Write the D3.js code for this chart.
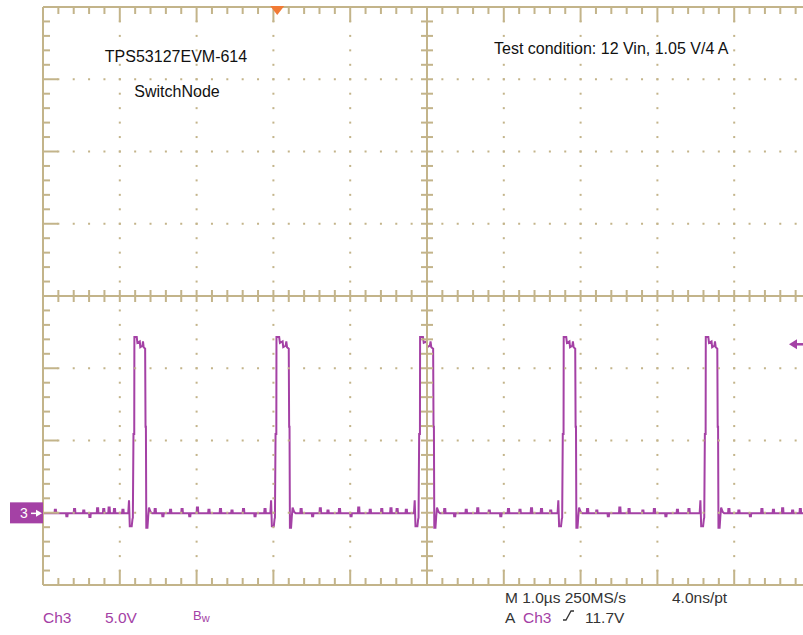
<!DOCTYPE html>
<html>
<head>
<meta charset="utf-8">
<script src="https://cdn.jsdelivr.net/npm/d3@7"></script>
<style>
  html, body { margin: 0; padding: 0; background: #fff; }
  svg { display: block; }
</style>
</head>
<body>
<div id="chart"></div>
<script>
// scope settings
const timePerDiv = 1.0;      // µs / div
const voltsPerDiv = 5.0;     // V / div
const triggerLevel = 11.7;   // V
const triggerTime = -1.95;   // µs, relative to screen centre

// pulses (µs from centre)
const riseTimes = [-3.83, -1.98, -0.11, 1.76, 3.61];
const fallTimes = [-3.66, -1.79, 0.09, 1.94, 3.79];
// plateau shape: [fraction of pulse width, volts]
const topShape = [[0, 12.2], [0.22, 12.2], [0.28, 11.8], [0.5, 11.9], [0.55, 11.5], [0.75, 11.6], [0.8, 11.9], [0.86, 11.5], [1, 11.4]];
// ringing before rise / after fall: [µs offset, volts]
const preRing = [[-0.06, 0], [-0.05, 0.9], [-0.04, -0.9], [-0.015, -0.9], [-0.005, -0.4]];
const postRing = [[0.005, -1.0], [0.02, -1.0], [0.03, -0.2], [0.04, 0.4], [0.06, 0.1], [0.08, 0]];
// small glitches on the baseline: [µs, volts]
const glitches = [
  [-4.85, 0.25], [-4.7, -0.2], [-4.6, 0.3], [-4.48, 0.2], [-4.4, -0.25], [-4.3, 0.35], [-4.22, 0.3], [-4.15, 0.4], [-4.08, 0.3], [-3.97, 0.25],
  [-3.55, 0.3], [-3.45, -0.2], [-3.35, 0.25], [-3.2, 0.3], [-3.1, -0.2], [-3.0, 0.4], [-2.85, 0.25], [-2.7, 0.3], [-2.55, 0.2], [-2.4, 0.3], [-2.25, -0.2], [-2.12, 0.3],
  [-1.65, 0.3], [-1.5, -0.2], [-1.4, 0.35], [-1.3, 0.2], [-1.15, 0.3], [-1.0, -0.2], [-0.9, 0.4], [-0.75, 0.25], [-0.6, 0.3], [-0.48, 0.35], [-0.4, 0.3], [-0.28, 0.25],
  [0.22, 0.3], [0.35, -0.2], [0.5, 0.25], [0.65, 0.35], [0.8, 0.2], [0.95, -0.2], [1.05, 0.3], [1.2, 0.25], [1.35, 0.35], [1.48, 0.3], [1.6, 0.2],
  [2.08, 0.3], [2.2, 0.2], [2.35, -0.2], [2.5, 0.4], [2.62, 0.3], [2.8, 0.2], [2.95, 0.3], [3.1, -0.2], [3.25, 0.25], [3.4, 0.3],
  [3.92, 0.3], [4.05, 0.2], [4.2, -0.2], [4.35, 0.3], [4.5, 0.25], [4.62, 0.35], [4.75, 0.2], [4.85, 0.3]];

const width = 803, height = 635;
const gridColor = "#c3b48a";
const traceColor = "#a441a5";

const svg = d3.select("#chart").append("svg")
    .attr("width", width)
    .attr("height", height)
    .style("font-family", "'Liberation Sans', Arial, sans-serif");

svg.append("rect").attr("width", width).attr("height", height).attr("fill", "#fff");

// division scales
const xDiv = d3.scaleLinear().domain([0, 10]).range([43, 811]);
const yDiv = d3.scaleLinear().domain([0, 8]).range([7, 585]);
// data scales
const x = d3.scaleLinear().domain([-5 * timePerDiv, 5 * timePerDiv]).range([43, 811]);
const y = d3.scaleLinear().domain([-1 * voltsPerDiv, 7 * voltsPerDiv]).range([585.6, 7.6]);

// build trace
const pts = [[-5, 0]];
const events = [];
riseTimes.forEach((r, i) => {
  const f = fallTimes[i], w = f - r;
  const seg = [];
  preRing.forEach(p => seg.push([r + p[0], p[1]]));
  seg.push([r, -0.3]);
  seg.push([r + 0.008, 5.5]);
  seg.push([r + 0.018, 5.5]);
  topShape.forEach(p => seg.push([r + 0.02 + p[0] * (w - 0.03), p[1]]));
  seg.push([f - 0.005, 6.0]);
  seg.push([f, 6.0]);
  postRing.forEach(p => seg.push([f + p[0], p[1]]));
  events.push({t: r - 0.06, seg});
});
glitches.forEach(g => events.push({t: g[0], seg: [[g[0], 0], [g[0] + 0.004, g[1]], [g[0] + 0.018, g[1]], [g[0] + 0.022, 0]]}));
events.sort((a, b) => a.t - b.t).forEach(e => e.seg.forEach(p => pts.push(p)));
pts.push([x.invert(803), 0]);

svg.append("path")
    .datum(pts)
    .attr("fill", "none")
    .attr("stroke", traceColor)
    .attr("stroke-width", 2)
    .attr("d", d3.line().x(d => x(d[0])).y(d => y(d[1])));

// grid: dotted lines
const g = svg.append("g").attr("fill", gridColor);
const minorX = d3.range(0, 50.01, 1).map(i => i / 5);
const minorY = d3.range(0, 40.01, 1).map(i => i / 5);
for (let i = 1; i < 10; i++) {
  if (i === 5) continue;
  minorY.forEach(v => g.append("rect").attr("x", xDiv(i) - 1).attr("y", yDiv(v) - 1).attr("width", 2).attr("height", 2));
}
for (let j = 1; j < 8; j++) {
  if (j === 4) continue;
  minorX.forEach(v => g.append("rect").attr("x", xDiv(v) - 1).attr("y", yDiv(j) - 1).attr("width", 2).attr("height", 2));
}

// border and centre cross with ticks
const gl = svg.append("g").attr("stroke", gridColor).attr("stroke-width", 2);
gl.append("line").attr("x1", xDiv(0)).attr("x2", xDiv(10)).attr("y1", yDiv(0)).attr("y2", yDiv(0));
gl.append("line").attr("x1", xDiv(0)).attr("x2", xDiv(10)).attr("y1", yDiv(8)).attr("y2", yDiv(8));
gl.append("line").attr("x1", xDiv(0)).attr("x2", xDiv(0)).attr("y1", yDiv(0)).attr("y2", yDiv(8));
gl.append("line").attr("x1", xDiv(5)).attr("x2", xDiv(5)).attr("y1", yDiv(0)).attr("y2", yDiv(8));
gl.append("line").attr("x1", xDiv(0)).attr("x2", xDiv(10)).attr("y1", yDiv(4)).attr("y2", yDiv(4));

minorX.forEach(v => {
  const major = Math.abs(v - Math.round(v)) < 1e-6;
  const len = major ? 15 : 7;
  gl.append("line").attr("x1", xDiv(v)).attr("x2", xDiv(v)).attr("y1", yDiv(0)).attr("y2", yDiv(0) + len);
  gl.append("line").attr("x1", xDiv(v)).attr("x2", xDiv(v)).attr("y1", yDiv(8)).attr("y2", yDiv(8) - len);
  gl.append("line").attr("x1", xDiv(v)).attr("x2", xDiv(v)).attr("y1", yDiv(4) - 6).attr("y2", yDiv(4) + 6);
});
minorY.forEach(v => {
  const major = Math.abs(v - Math.round(v)) < 1e-6;
  const len = major ? 15 : 7;
  gl.append("line").attr("x1", xDiv(0)).attr("x2", xDiv(0) + len).attr("y1", yDiv(v)).attr("y2", yDiv(v));
  gl.append("line").attr("x1", xDiv(5) - 6).attr("x2", xDiv(5) + 6).attr("y1", yDiv(v)).attr("y2", yDiv(v));
});

// trigger position marker (top)
const tx = x(triggerTime);
svg.append("path")
    .attr("d", `M${tx - 7},${yDiv(0) - 1} L${tx + 7},${yDiv(0) - 1} L${tx},${yDiv(0) + 8} Z`)
    .attr("fill", "#f27a35");

// trigger level marker (right)
const ty = y(triggerLevel);
svg.append("path")
    .attr("d", `M789,${ty} L797,${ty - 5} L797,${ty + 5} Z`)
    .attr("fill", traceColor);
svg.append("line").attr("x1", 795).attr("x2", 803).attr("y1", ty).attr("y2", ty)
    .attr("stroke", traceColor).attr("stroke-width", 2.5);

// channel ground marker (left)
const gy = y(0);
svg.append("rect").attr("x", 10).attr("y", gy - 11).attr("width", 33).attr("height", 21).attr("fill", traceColor);
svg.append("text").attr("x", 24).attr("y", gy + 5).attr("text-anchor", "middle")
    .attr("fill", "#fff").attr("font-size", 14).text("3");
svg.append("line").attr("x1", 31).attr("x2", 40).attr("y1", gy).attr("y2", gy)
    .attr("stroke", "#fff").attr("stroke-width", 1.5);
svg.append("path").attr("d", `M42,${gy} L36,${gy - 3.5} L36,${gy + 3.5} Z`).attr("fill", "#fff");

// annotations
const ann = svg.append("g").attr("font-size", 16).attr("fill", "#111");
ann.append("text").attr("x", 176).attr("y", 62).attr("text-anchor", "middle").text("TPS53127EVM-614");
ann.append("text").attr("x", 177).attr("y", 97).attr("text-anchor", "middle").text("SwitchNode");
ann.append("text").attr("x", 494).attr("y", 54).text("Test condition: 12 Vin, 1.05 V/4 A");

// status readout
const st = svg.append("g").attr("font-size", 15.5).attr("fill", "#333");
st.append("text").attr("x", 43).attr("y", 623).attr("fill", traceColor).text("Ch3");
st.append("text").attr("x", 105).attr("y", 623).attr("fill", traceColor).text(voltsPerDiv.toFixed(1) + "V");
const bw = st.append("text").attr("x", 193).attr("y", 620).attr("fill", traceColor);
bw.append("tspan").attr("font-size", 13).text("B");
bw.append("tspan").attr("font-size", 11).attr("dy", 2).text("w");
st.append("text").attr("x", 505).attr("y", 603).text("M " + timePerDiv.toFixed(1) + "µs 250MS/s");
st.append("text").attr("x", 672).attr("y", 603).text("4.0ns/pt");
st.append("text").attr("x", 505).attr("y", 623).text("A");
st.append("text").attr("x", 523).attr("y", 623).attr("fill", traceColor).text("Ch3");
// rising-edge slope symbol
svg.append("path").attr("d", "M563,620 L566,620 L571,611 L574,611")
    .attr("fill", "none").attr("stroke", "#333").attr("stroke-width", 1.3);
st.append("text").attr("x", 585).attr("y", 623).text(triggerLevel.toFixed(1) + "V");
</script>
</body>
</html>
